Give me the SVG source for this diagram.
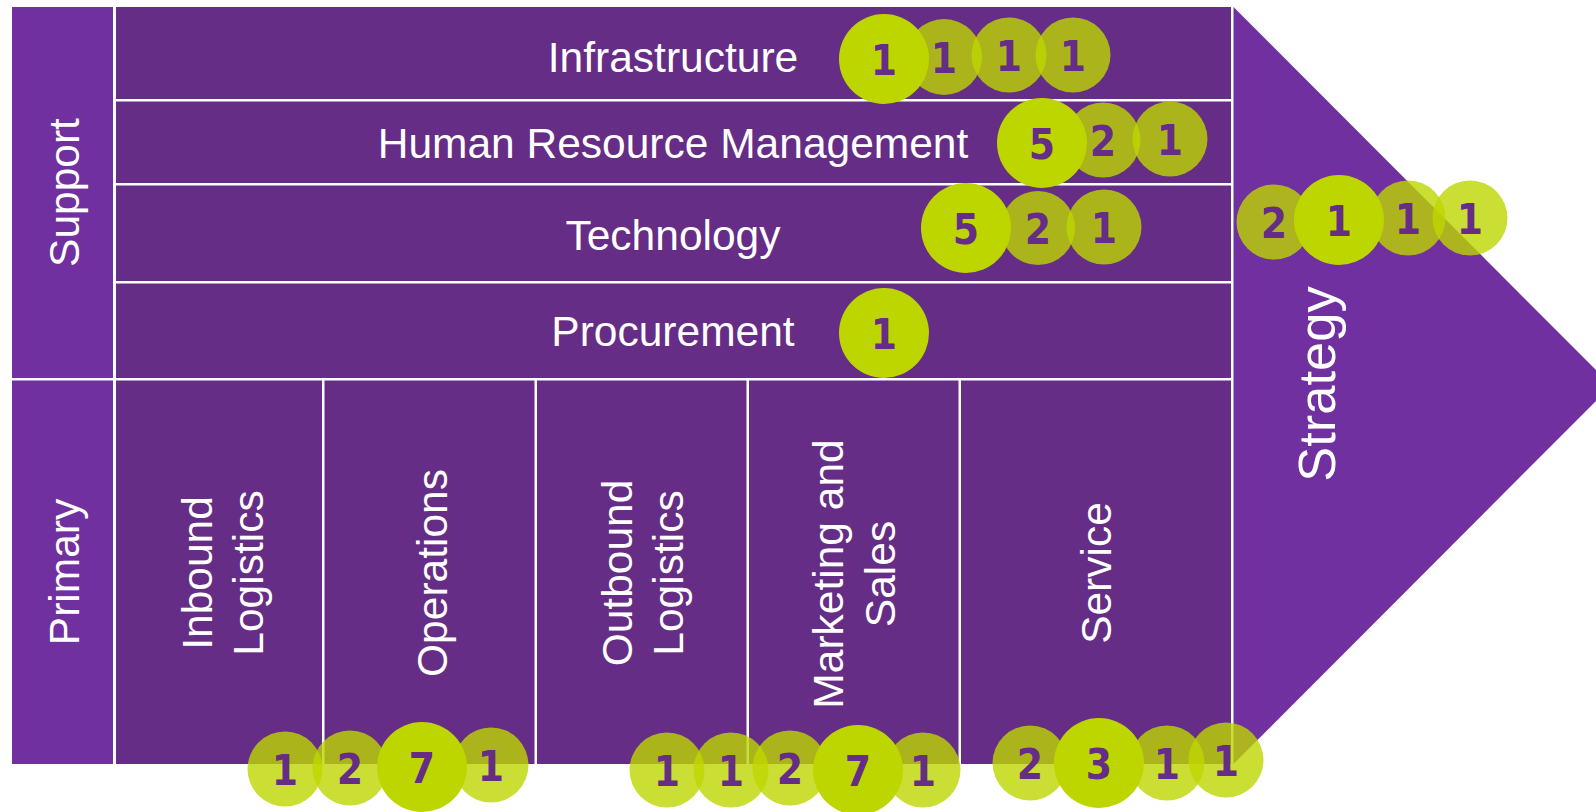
<svg xmlns="http://www.w3.org/2000/svg" width="1596" height="812" viewBox="0 0 1596 812">
<style>
.side{fill:#7030A0}
.cell{fill:#652D86}
.lbl{fill:#ffffff;font-family:"Liberation Sans",Arial,sans-serif;font-size:42.5px;text-anchor:middle}
.big{fill:#BED600}
.sm{fill:#BED600;fill-opacity:0.8}
.num{fill:#652D86;font-family:"DejaVu Sans Condensed","DejaVu Sans",sans-serif;font-weight:bold;font-size:42px;text-anchor:middle}
</style>
<rect width="1596" height="812" fill="#ffffff"/>
<g id="support">
<rect class="side" x="12" y="7" width="101" height="371"/>
<text class="lbl" transform="translate(79,192.5) rotate(-90)">Support</text>
</g>
<g id="primary">
<rect class="side" x="12" y="380.5" width="101" height="383.5"/>
<text class="lbl" transform="translate(79,572) rotate(-90)">Primary</text>
</g>
<g id="strategy">
<polygon class="side" points="1233.5,7 1611.5,385.5 1233.5,764"/>
<text class="lbl" style="font-size:52.5px" transform="translate(1335,384) rotate(-90)">Strategy</text>
</g>
<g id="infrastructure">
<rect class="cell" x="116" y="7" width="1115" height="92"/>
<text class="lbl" x="673" y="72">Infrastructure</text>
</g>
<g id="hrm">
<rect class="cell" x="116" y="101.5" width="1115" height="81.5"/>
<text class="lbl" x="673" y="158">Human Resource Management</text>
</g>
<g id="technology">
<rect class="cell" x="116" y="185.5" width="1115" height="95.5"/>
<text class="lbl" x="673" y="250">Technology</text>
</g>
<g id="procurement">
<rect class="cell" x="116" y="283.5" width="1115" height="94.5"/>
<text class="lbl" x="673" y="346">Procurement</text>
</g>
<g id="inbound">
<rect class="cell" x="116" y="380.5" width="206" height="383.5"/>
<text class="lbl" transform="translate(211.7,573) rotate(-90)">Inbound</text>
<text class="lbl" transform="translate(262.7,573) rotate(-90)">Logistics</text>
</g>
<g id="operations">
<rect class="cell" x="324.5" y="380.5" width="210" height="383.5"/>
<text class="lbl" transform="translate(447,573) rotate(-90)">Operations</text>
</g>
<g id="outbound">
<rect class="cell" x="537" y="380.5" width="209.5" height="383.5"/>
<text class="lbl" transform="translate(631.7,573) rotate(-90)">Outbound</text>
<text class="lbl" transform="translate(682.7,573) rotate(-90)">Logistics</text>
</g>
<g id="marketing">
<rect class="cell" x="749" y="380.5" width="209.5" height="383.5"/>
<text class="lbl" transform="translate(843,574) rotate(-90)">Marketing and</text>
<text class="lbl" transform="translate(894.5,574) rotate(-90)">Sales</text>
</g>
<g id="service">
<rect class="cell" x="961" y="380.5" width="270" height="383.5"/>
<text class="lbl" transform="translate(1111,573) rotate(-90)">Service</text>
</g>
<g id="badges-infrastructure">
<circle class="big" cx="884" cy="59" r="45"/><text class="num" x="884" y="75">1</text>
<circle class="sm" cx="944" cy="57" r="38"/><text class="num" x="944" y="73">1</text>
<circle class="sm" cx="1009" cy="55" r="37.5"/><text class="num" x="1009" y="71">1</text>
<circle class="sm" cx="1073" cy="55" r="37.5"/><text class="num" x="1073" y="71">1</text>
</g>
<g id="badges-hrm">
<circle class="big" cx="1042" cy="143" r="45"/><text class="num" x="1042" y="159">5</text>
<circle class="sm" cx="1103" cy="140" r="37.5"/><text class="num" x="1103" y="156">2</text>
<circle class="sm" cx="1170" cy="139" r="37.5"/><text class="num" x="1170" y="155">1</text>
</g>
<g id="badges-technology">
<circle class="big" cx="966" cy="228" r="45"/><text class="num" x="966" y="244">5</text>
<circle class="sm" cx="1038" cy="228" r="37"/><text class="num" x="1038" y="244">2</text>
<circle class="sm" cx="1104" cy="227" r="37.5"/><text class="num" x="1104" y="243">1</text>
</g>
<g id="badges-procurement">
<circle class="big" cx="884" cy="333" r="45"/><text class="num" x="884" y="349">1</text>
</g>
<g id="badges-strategy">
<circle class="sm" cx="1274" cy="222" r="37.5"/><text class="num" x="1274" y="238">2</text>
<circle class="big" cx="1339" cy="220" r="45"/><text class="num" x="1339" y="236">1</text>
<circle class="sm" cx="1408" cy="218" r="37.5"/><text class="num" x="1408" y="234">1</text>
<circle class="sm" cx="1470" cy="218" r="37.5"/><text class="num" x="1470" y="234">1</text>
</g>
<g id="badges-inbound-operations">
<circle class="sm" cx="285" cy="769" r="37.5"/><text class="num" x="285" y="785">1</text>
<circle class="sm" cx="350" cy="768" r="37.5"/><text class="num" x="350" y="784">2</text>
<circle class="big" cx="422" cy="767" r="45"/><text class="num" x="422" y="783">7</text>
<circle class="sm" cx="491" cy="765" r="37.5"/><text class="num" x="491" y="781">1</text>
</g>
<g id="badges-outbound-marketing">
<circle class="sm" cx="667" cy="770" r="37.5"/><text class="num" x="667" y="786">1</text>
<circle class="sm" cx="731" cy="770" r="37.5"/><text class="num" x="731" y="786">1</text>
<circle class="sm" cx="790" cy="768" r="37.5"/><text class="num" x="790" y="784">2</text>
<circle class="big" cx="858" cy="770" r="45"/><text class="num" x="858" y="786">7</text>
<circle class="sm" cx="923" cy="770" r="37.5"/><text class="num" x="923" y="786">1</text>
</g>
<g id="badges-service">
<circle class="sm" cx="1030" cy="763" r="37.5"/><text class="num" x="1030" y="779">2</text>
<circle class="big" cx="1099" cy="763" r="45"/><text class="num" x="1099" y="779">3</text>
<circle class="sm" cx="1167" cy="763" r="37.5"/><text class="num" x="1167" y="779">1</text>
<circle class="sm" cx="1226" cy="760" r="37.5"/><text class="num" x="1226" y="776">1</text>
</g>
</svg>
